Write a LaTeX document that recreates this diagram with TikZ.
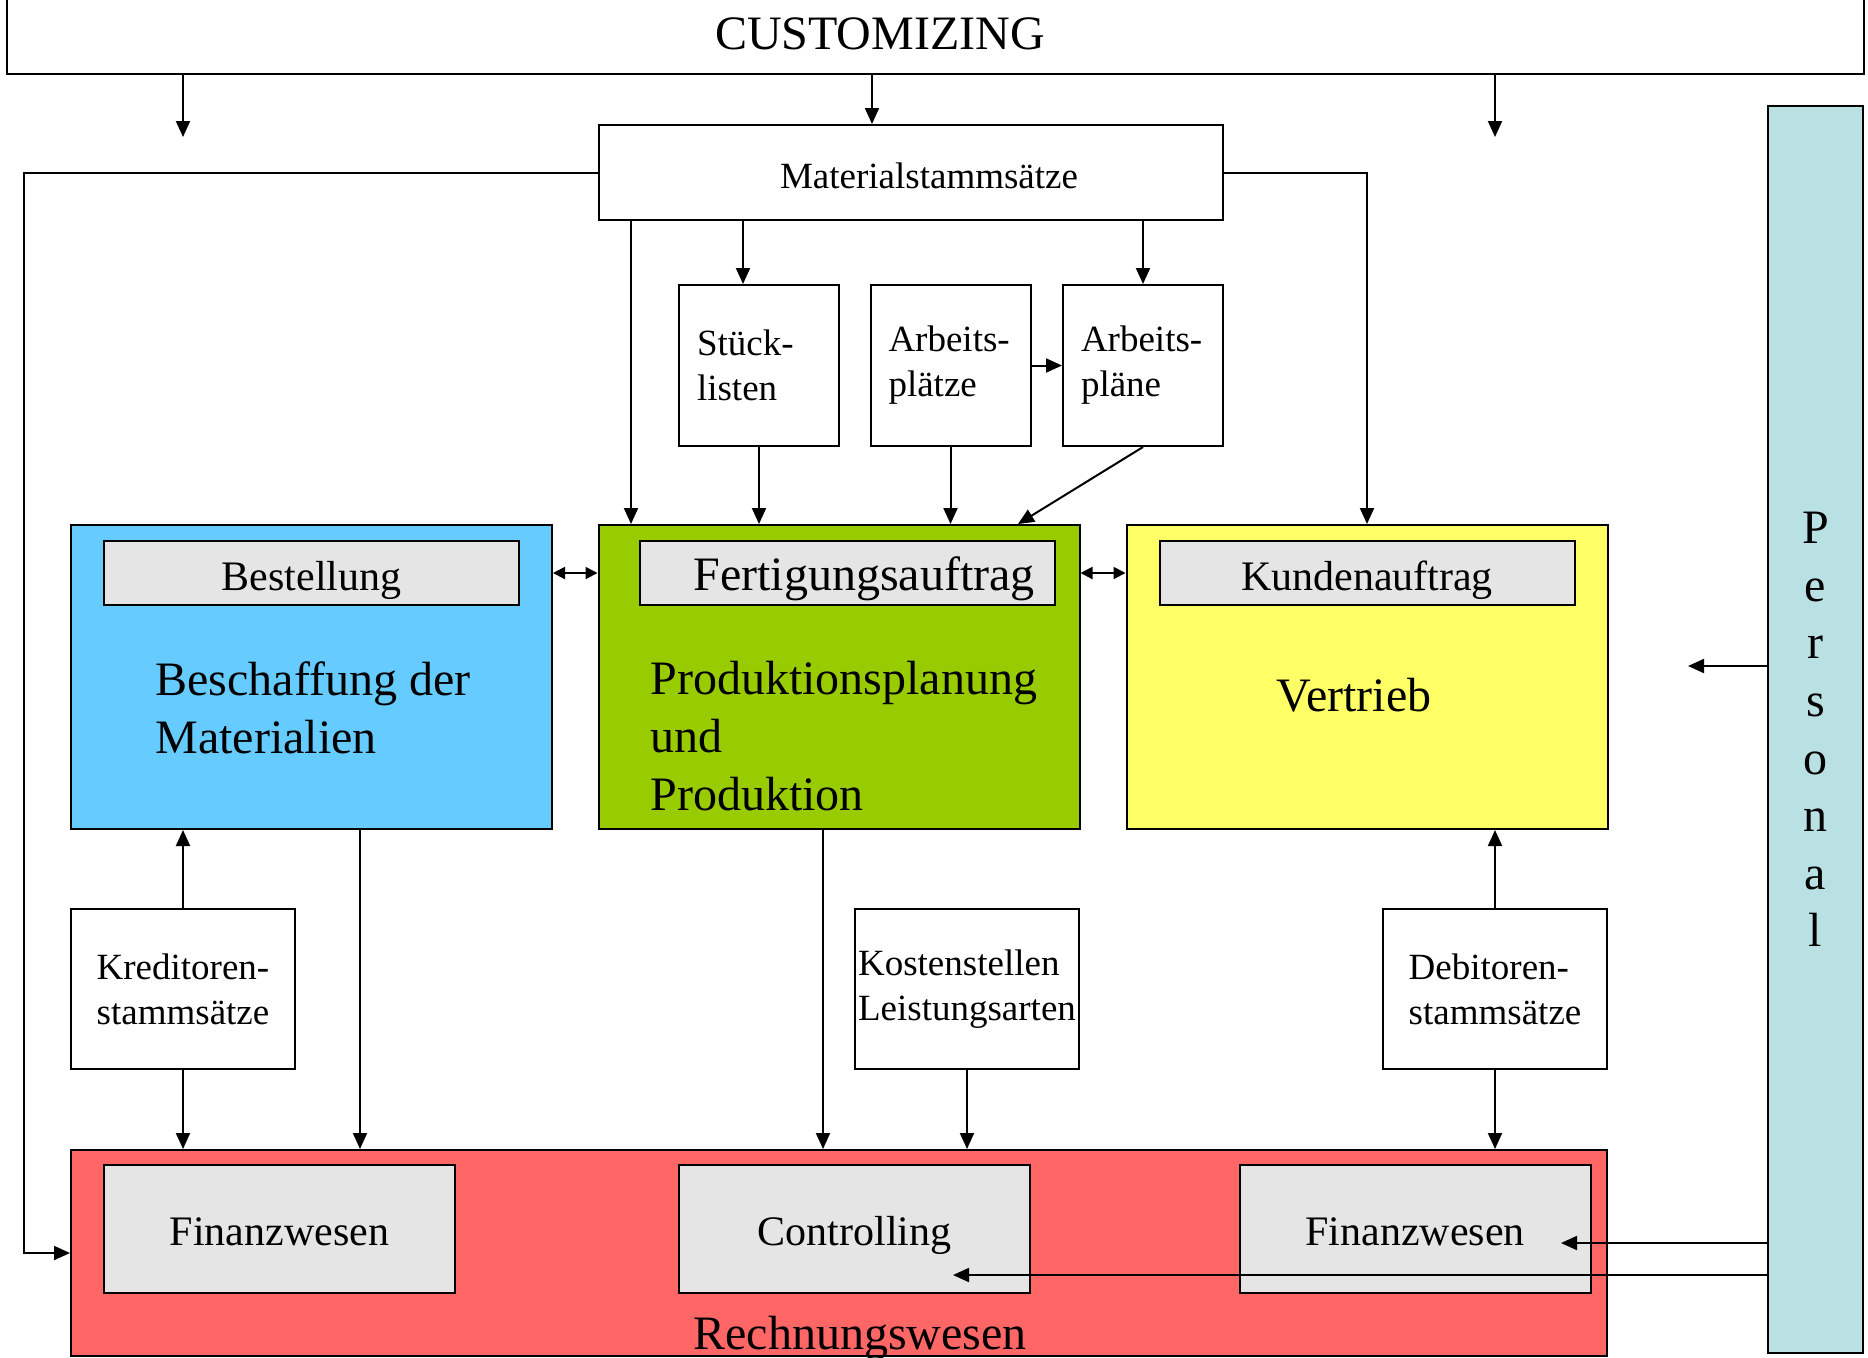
\documentclass[tikz,border=0pt]{standalone}
\usepackage{fontspec}
\setmainfont{Liberation Serif}
\usetikzlibrary{arrows.meta}
\definecolor{beschblue}{HTML}{66CCFF}
\definecolor{prodgreen}{HTML}{99CC00}
\definecolor{vertryellow}{HTML}{FFFF66}
\definecolor{rechred}{HTML}{FF6666}
\definecolor{boxgray}{HTML}{E5E5E5}
\definecolor{persblue}{HTML}{B9E0E2}
\newcommand{\fsbig}{\fontsize{24}{28.8}\selectfont}
\newcommand{\fsmid}{\fontsize{21}{25.2}\selectfont}
\newcommand{\fssmall}{\fontsize{18.5}{22.5}\selectfont}

\begin{document}
\begin{tikzpicture}[x=0.5pt,y=-0.5pt,
  box/.style={draw, line width=1pt, inner sep=0pt},
  smallbox/.style={box, fill=white, minimum width=80pt, minimum height=80.5pt, text width=62pt, inner xsep=9pt, align=left, font=\fssmall},
  wbox/.style={box, fill=white, minimum width=112pt, minimum height=80pt, align=left, font=\fssmall},
  area/.style={box, minimum width=240.5pt, minimum height=152pt},
  tabfont/.style={font=\fsmid, text height=17pt, text depth=0pt},
  tab/.style={box, tabfont, fill=boxgray, minimum width=207.5pt, minimum height=32pt},
  sub/.style={box, fill=boxgray, minimum width=175.5pt, minimum height=64pt, font=\fsmid, text height=16pt, text depth=0pt},
  lbl/.style={inner sep=0pt, font=\fsbig},
  arr/.style={line width=1pt, -{Triangle[length=8pt,width=7pt]}},
  dbl/.style={line width=1pt, {Triangle[length=6pt,width=6pt]}-{Triangle[length=6pt,width=6pt]}}]
\useasboundingbox (0,0) rectangle (1868,1357);

% Customizing und Stammdaten
\node[box, minimum width=928.5pt, minimum height=42pt] (cust) at (935.5,32) {};
\node[lbl] (custtext) at (880,34) {CUSTOMIZING};
\node[box, fill=white, minimum width=312pt, minimum height=47.5pt] (mat) at (911,172.5) {};
\node[lbl, font=\fssmall] (mattext) at (929,176) {Materialstammsätze};
\node[smallbox] (stueck) at (759,365.5) {Stück-\\listen};
\node[smallbox] (platz) at (950.5,365.5) {Arbeits-\\plätze};
\node[smallbox] (plaene) at (1143,365.5) {Arbeits-\\pläne};

% Bereiche
\node[area, fill=beschblue] (besch) at (311.5,677) {};
\node[area, fill=prodgreen] (prod) at (839,677) {};
\node[area, fill=vertryellow] (vertr) at (1367,677) {};
\node[tab] (best) at (311.5,573) {Bestellung};
\node[tab] (fert) at (847.5,573) {};
\node[lbl, tabfont, font=\fsbig] (ferttext) at (864,573) {Fertigungsauftrag};
\node[tab] (kund) at (1367,573) {Kundenauftrag};
\node[lbl, anchor=west, align=left] (beschtext) at (155,708) {Beschaffung der\\Materialien};
\node[lbl, anchor=west, align=left] (prodtext) at (650,736) {Produktionsplanung\\und\\Produktion};
\node[lbl] (vertrtext) at (1354,695) {Vertrieb};

\node[wbox] (kred) at (183,989) {Kreditoren-\\stammsätze};
\node[wbox] (kost) at (967,989) {Kostenstellen\\Leistungsarten};
\node[wbox] (deb) at (1495,989) {Debitoren-\\stammsätze};

% Rechnungswesen
\node[box, fill=rechred, minimum width=768pt, minimum height=103pt] (rech) at (839,1253) {};
\node[sub] (fin1) at (279.5,1229) {Finanzwesen};
\node[sub] (ctrl) at (854.5,1229) {Controlling};
\node[sub] (fin2) at (1415,1229) {Finanzwesen};
\node[lbl] (rechtext) at (860,1338) {Rechnungswesen};

\node[box, fill=persblue, minimum width=47.5pt, minimum height=623.5pt, align=center, font=\fsbig] (pers) at (1815.5,729.5) {P\\e\\r\\s\\o\\n\\a\\l};

\coordinate (cl) at (183,137);
\coordinate (cr) at (1495,137);
\coordinate (pa) at (1688,666);
\coordinate (pb) at (1561,1243);
\coordinate (pc) at (953,1275);

% Verbindungen
\draw[arr] (cust.south -| cl) -- (cl);
\draw[arr] (cust.south -| cr) -- (cr);
\draw[arr] (cust.south -| 872,0) -- (mat.north -| 872,0);
\draw[arr] (mat.west) -| (24,1253) -- (rech.west);
\draw[arr] (mat.east) -| (vertr.north);
\draw[arr] (mat.south -| 631,0) -- (prod.north -| 631,0);
\draw[arr] (mat.south -| 743,0) -- (stueck.north -| 743,0);
\draw[arr] (mat.south -| plaene) -- (plaene.north);
\draw[arr] (stueck.south) -- (prod.north -| stueck.south);
\draw[arr] (platz.south) -- (prod.north -| platz.south);
\draw[arr] (platz.east) -- (plaene.west);
\draw[arr] (plaene.south) -- (prod.north -| 1018,0);
\draw[dbl] (besch.east |- best) -- (prod.west |- best);
\draw[dbl] (prod.east |- best) -- (vertr.west |- best);
\draw[arr] (kred.north) -- (besch.south -| kred.north);
\draw[arr] (kred.south) -- (rech.north -| kred.south);
\draw[arr] (besch.south -| 360,0) -- (rech.north -| 360,0);
\draw[arr] (prod.south -| 823,0) -- (rech.north -| 823,0);
\draw[arr] (kost.south) -- (rech.north -| kost.south);
\draw[arr] (deb.north) -- (vertr.south -| deb.north);
\draw[arr] (deb.south) -- (rech.north -| deb.south);
\draw[arr] (pers.west |- pa) -- (pa);
\draw[arr] (pers.west |- pb) -- (pb);
\draw[arr] (pers.west |- pc) -- (pc);
\end{tikzpicture}
\end{document}
